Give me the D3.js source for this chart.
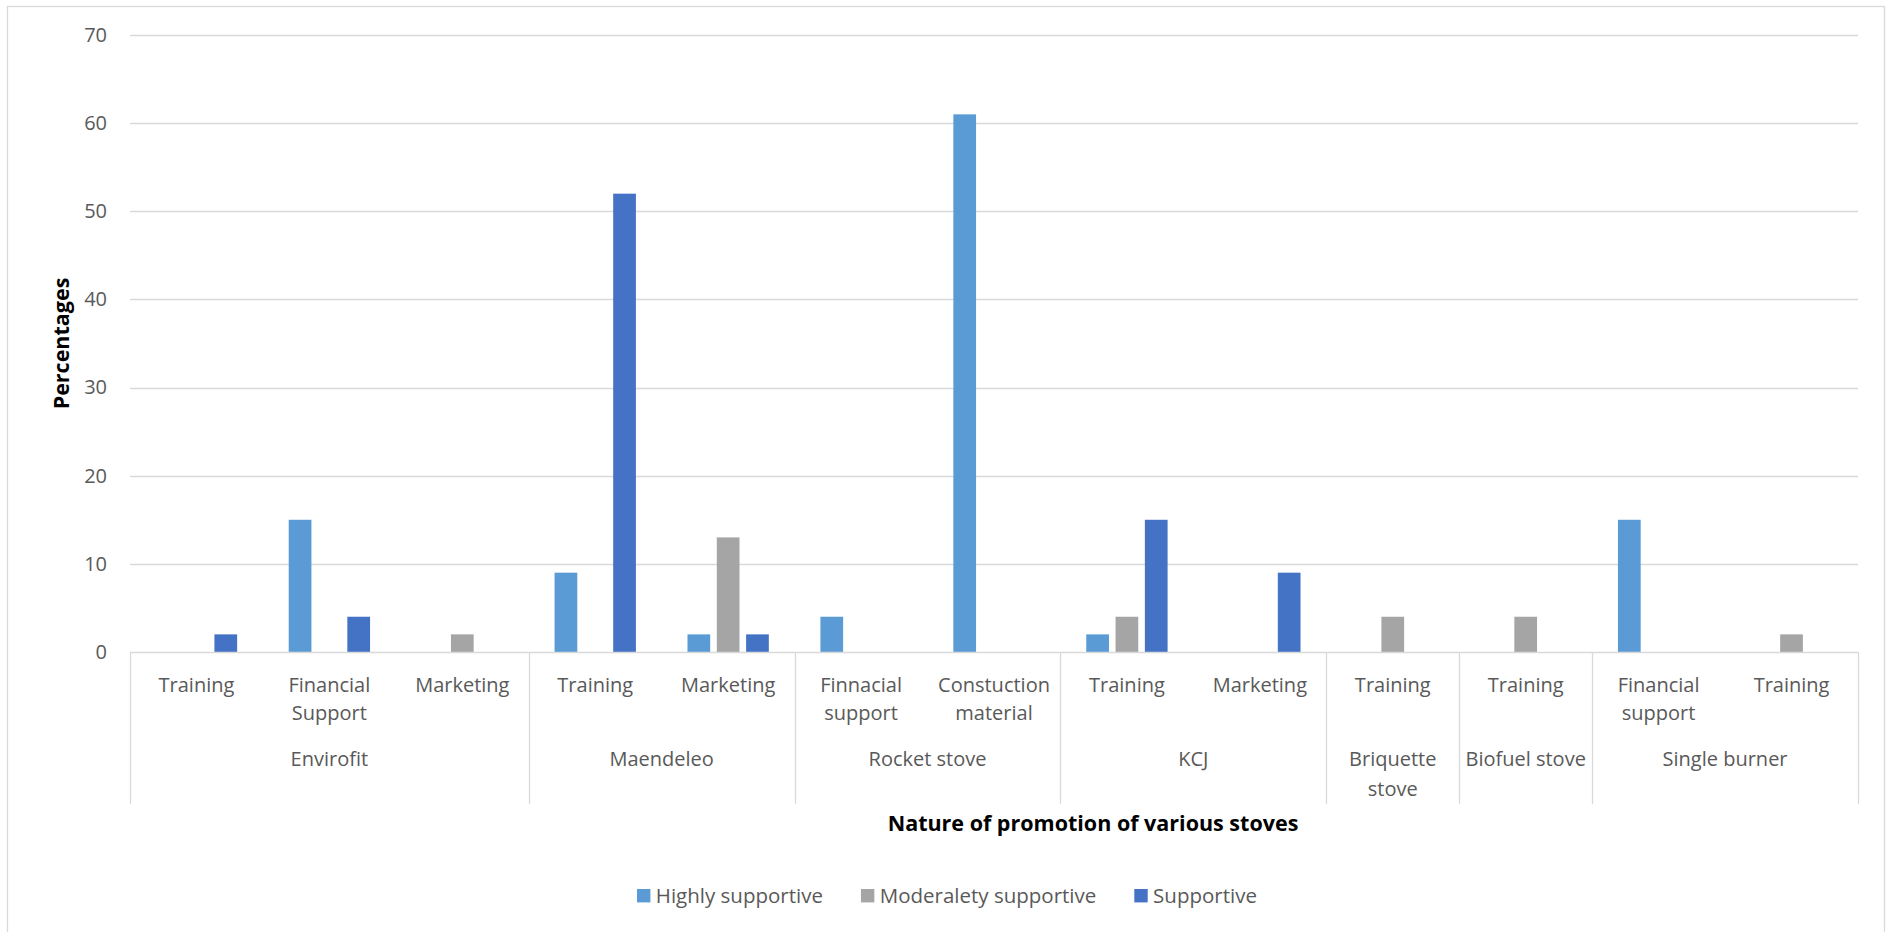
<!DOCTYPE html>
<html>
<head>
<meta charset="utf-8">
<script src="https://cdn.jsdelivr.net/npm/d3@7"></script>
<style>
  html, body { margin: 0; padding: 0; background: #fff; }
  svg { display: block; font-family: "Open Sans", "Noto Sans", sans-serif; }
</style>
</head>
<body>
<svg id="chart" width="1886" height="932"></svg>
<script>
// Sub-category labels along the x axis ("\n" marks a line break)
const subLabels = [
  "Training", "Financial\nSupport", "Marketing",
  "Training", "Marketing",
  "Finnacial\nsupport", "Constuction\nmaterial",
  "Training", "Marketing",
  "Training",
  "Training",
  "Financial\nsupport", "Training"
];
// Stove groups and how many sub-categories each spans
const groupLabels = ["Envirofit", "Maendeleo", "Rocket stove", "KCJ", "Briquette\nstove", "Biofuel stove", "Single burner"];
const groupSizes = [3, 2, 2, 2, 1, 1, 2];

// Series values (percentages)
const seriesNames = ["Highly supportive", "Moderalety supportive", "Supportive"];
const highlySupportive     = [0, 15, 0, 9, 2, 4, 61, 2, 0, 0, 0, 15, 0];
const moderatelySupportive = [0, 0, 2, 0, 13, 0, 0, 4, 0, 4, 4, 0, 2];
const supportive           = [2, 4, 0, 52, 2, 0, 0, 15, 9, 0, 0, 0, 0];
const yTicks = [0, 10, 20, 30, 40, 50, 60, 70];

const seriesValues = [highlySupportive, moderatelySupportive, supportive];
const colors = ["#5B9BD5", "#A5A5A5", "#4472C4"];

const svg = d3.select("#chart");
const plotLeft = 130, plotRight = 1858, plotTop = 35, plotBottom = 652;

// outer chart border
svg.append("rect")
  .attr("x", 7.5).attr("y", 6.5)
  .attr("width", 1877).attr("height", 960)
  .attr("fill", "none").attr("stroke", "#D9D9D9").attr("stroke-width", 1.3);

const x = d3.scaleBand().domain(d3.range(subLabels.length)).range([plotLeft, plotRight]).padding(0);
const inner = d3.scaleBand().domain(d3.range(3)).range([0, x.bandwidth()])
  .paddingInner(0.225).paddingOuter(0.88);
const y = d3.scaleLinear().domain([0, 70]).range([plotBottom, plotTop]);

// gridlines
svg.append("g").selectAll("line").data(yTicks.filter(d => d > 0)).join("line")
  .attr("x1", plotLeft).attr("x2", plotRight)
  .attr("y1", d => Math.round(y(d)) + 0.5).attr("y2", d => Math.round(y(d)) + 0.5)
  .attr("stroke", "#D9D9D9").attr("stroke-width", 1.3);

// y tick labels
const yAxis = d3.axisLeft(y).tickValues(yTicks).tickSize(0).tickPadding(23);
const gy = svg.append("g").attr("transform", `translate(${plotLeft},0)`).call(yAxis);
gy.select(".domain").remove();
gy.selectAll("text")
  .attr("fill", "#595959").style("font-size", "20px")
  .style("font-family", "'Open Sans', sans-serif");

// bars
const barData = [];
seriesValues.forEach((vals, s) => vals.forEach((v, i) => { if (v > 0) barData.push({ s, i, v }); }));
svg.append("g").selectAll("rect").data(barData).join("rect")
  .attr("x", d => x(d.i) + inner(d.s))
  .attr("width", inner.bandwidth())
  .attr("y", d => y(d.v))
  .attr("height", d => y(0) - y(d.v))
  .attr("fill", d => colors[d.s]);

// category axis line and group separators
const axisCol = "#D9D9D9";
svg.append("line").attr("x1", plotLeft).attr("x2", plotRight)
  .attr("y1", plotBottom + 0.5).attr("y2", plotBottom + 0.5)
  .attr("stroke", axisCol).attr("stroke-width", 1.3);

const groupBounds = [];
let acc = 0;
groupSizes.forEach((n, g) => {
  const x0 = x(acc), x1 = x(acc + n - 1) + x.bandwidth();
  groupBounds.push({ g, x0, x1 });
  acc += n;
});
const sepX = [plotLeft].concat(groupBounds.map(b => b.x1));
svg.append("g").selectAll("line").data(sepX).join("line")
  .attr("x1", d => Math.round(d) + 0.5).attr("x2", d => Math.round(d) + 0.5)
  .attr("y1", plotBottom).attr("y2", 804)
  .attr("stroke", axisCol).attr("stroke-width", 1.3);

// multi-line text helper
function multiText(sel, lineH) {
  sel.each(function (d) {
    const t = d3.select(this);
    d.text.split("\n").forEach((ln, k) => {
      t.append("tspan").attr("x", d.cx).attr("dy", k === 0 ? 0 : lineH).text(ln);
    });
  });
}

// sub-category labels
svg.append("g").selectAll("text")
  .data(subLabels.map((t, i) => ({ text: t, cx: x(i) + x.bandwidth() / 2 })))
  .join("text")
  .attr("y", 691.5)
  .attr("text-anchor", "middle").attr("fill", "#595959")
  .style("font-size", "20px")
  .call(multiText, 28.5);

// group labels
svg.append("g").selectAll("text")
  .data(groupBounds.map(b => ({ text: groupLabels[b.g], cx: (b.x0 + b.x1) / 2 })))
  .join("text")
  .attr("y", 766)
  .attr("text-anchor", "middle").attr("fill", "#595959")
  .style("font-size", "20px")
  .call(multiText, 30);

// axis titles
svg.append("text")
  .attr("x", 1093).attr("y", 831)
  .attr("text-anchor", "middle").attr("fill", "#000")
  .style("font-size", "21.5px").style("font-weight", "bold")
  .text("Nature of promotion of various stoves");

svg.append("text")
  .attr("transform", "translate(69,343.5) rotate(-90)")
  .attr("text-anchor", "middle").attr("fill", "#000")
  .style("font-size", "21.5px").style("font-weight", "bold")
  .text("Percentages");

// legend
const legend = svg.append("g");
const items = legend.selectAll("g").data(seriesNames).join("g");
items.append("rect").attr("width", 13.4).attr("height", 13.4).attr("y", 889)
  .attr("fill", (d, i) => colors[i]);
items.append("text").attr("x", 18.8).attr("y", 902.5)
  .attr("fill", "#595959").style("font-size", "20.5px").text(d => d);
const widths = [];
items.select("text").each(function () { widths.push(this.getComputedTextLength()); });
const itemW = widths.map(w => 18.8 + w);
const gap = 38;
let lx = 637;
items.attr("transform", (d, i) => {
  const t = `translate(${lx},0)`;
  lx += itemW[i] + gap;
  return t;
});
</script>
</body>
</html>
